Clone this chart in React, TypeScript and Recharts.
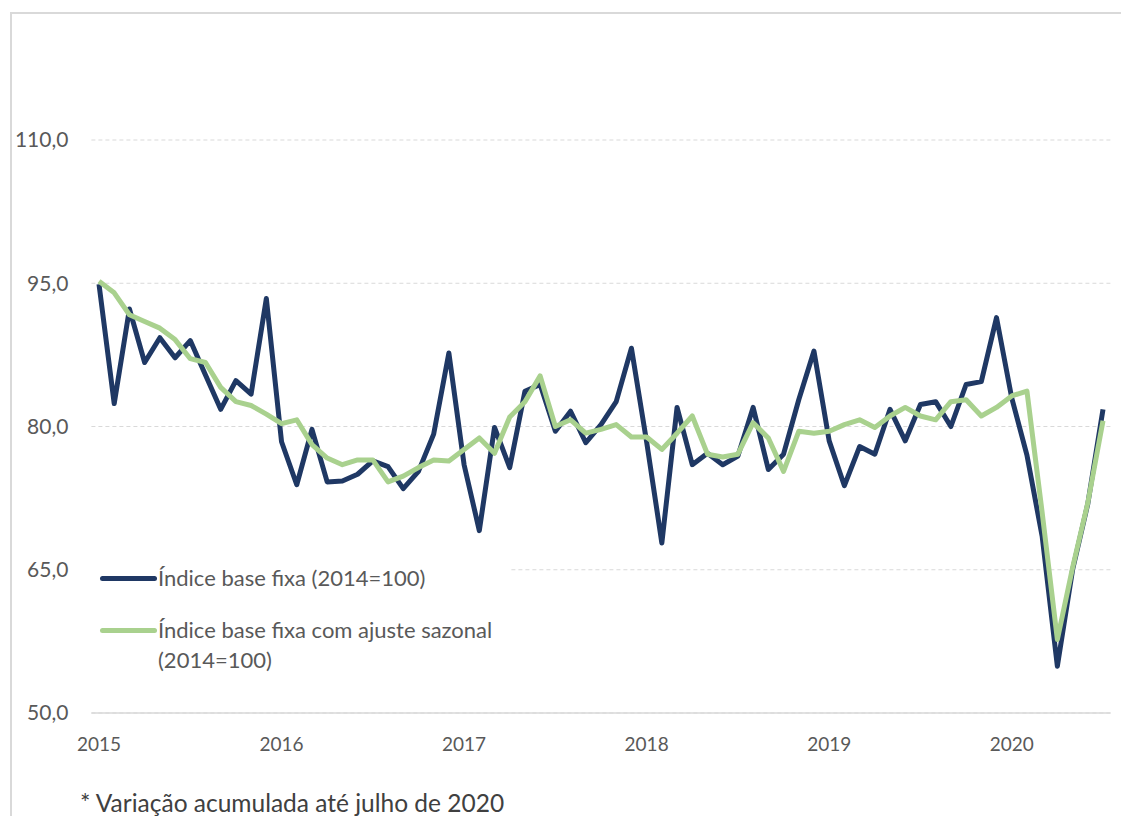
import React from 'react';
import { LineChart, Line, XAxis, YAxis, CartesianGrid, Legend } from 'recharts';

const years = ['2015', '2016', '2017', '2018', '2019', '2020'];
const monthsPerYear = ['01', '02', '03', '04', '05', '06', '07', '08', '09', '10', '11', '12'];
const lastMonth2020 = 7;

const indiceBaseFixa = [
  94.9, 82.4, 92.3, 86.7, 89.3, 87.2, 89.0, 85.4, 81.8, 84.8, 83.4, 93.4,
  78.4, 73.9, 79.7, 74.2, 74.3, 75.0, 76.4, 75.8, 73.5, 75.3, 79.2, 87.7,
  76.0, 69.1, 79.9, 75.7, 83.7, 84.4, 79.5, 81.6, 78.3, 80.2, 82.6, 88.2,
  78.4, 67.8, 82.0, 76.0, 77.2, 76.0, 76.9, 82.0, 75.5, 77.1, 82.8, 87.9,
  78.5, 73.8, 77.9, 77.1, 81.8, 78.5, 82.3, 82.6, 80.0, 84.4, 84.7, 91.4,
  83.0, 77.0, 68.5, 54.9, 65.0, 71.9, 81.8,
];

const indiceAjusteSazonal = [
  95.2, 94.0, 91.7, 91.0, 90.3, 89.1, 87.1, 86.7, 84.1, 82.6, 82.2, 81.3,
  80.3, 80.7, 78.1, 76.7, 76.0, 76.5, 76.5, 74.2, 74.8, 75.7, 76.5, 76.4,
  77.6, 78.8, 77.2, 81.0, 82.6, 85.3, 80.0, 80.7, 79.3, 79.7, 80.2, 78.9,
  78.9, 77.6, 79.3, 81.1, 77.1, 76.8, 77.1, 80.4, 78.8, 75.3, 79.5, 79.3,
  79.5, 80.2, 80.7, 79.9, 81.1, 82.0, 81.1, 80.7, 82.6, 82.8, 81.1, 82.0,
  83.2, 83.7, 71.0, 57.7, 65.2, 72.0, 80.6,
];

const yTicks = [50, 65, 80, 95, 110];

const seriesNames = ['Índice base fixa (2014=100)', 'Índice base fixa com ajuste sazonal (2014=100)'];
const footnote = '* Variação acumulada até julho de 2020';

const months: string[] = [];
years.forEach((y) => {
  const n = y === '2020' ? lastMonth2020 : 12;
  for (let m = 0; m < n; m++) months.push(`${y}-${monthsPerYear[m]}`);
});

const data = months.map((month, i) => ({
  month,
  fixa: indiceBaseFixa[i],
  sazonal: indiceAjusteSazonal[i],
}));

const DARK = '#1f3864';
const GREEN = '#a9d18e';
const TEXT = '#595959';
const FONT = 'Lato, "Open Sans", sans-serif';

const LegendContent = (props: any) => {
  const payload = props.payload || [];
  return (
    <div style={{ background: '#ffffff', padding: '10px 0 10px 0', fontFamily: FONT }}>
      {payload.map((p: any, i: number) => (
        <div key={i} style={{ display: 'flex', alignItems: 'flex-start', marginBottom: i === 0 ? 22 : 0 }}>
          <div style={{ width: 10 }} />
          <div style={{ width: 58, height: 30, display: 'flex', alignItems: 'center' }}>
            <div style={{ width: 57, height: 5, borderRadius: 3, background: p.color }} />
          </div>
          <div style={{ width: 350, fontSize: 22, lineHeight: '30px', color: TEXT }}>{p.value}</div>
        </div>
      ))}
    </div>
  );
};

export default function App() {
  return (
    <div style={{ position: 'relative', width: 1121, height: 808, overflow: 'hidden', fontFamily: FONT, background: '#fff' }}>
      <div style={{ position: 'absolute', left: 2, top: 4, width: 1200, height: 1000, border: '2px solid #d9d9d9', boxSizing: 'border-box' }} />
      <div style={{ position: 'absolute', left: 0, top: 0 }}>
        <LineChart width={1121} height={808} data={data} margin={{ top: 36.5, right: 18.4, bottom: 73, left: 0 }}>
          <CartesianGrid horizontal vertical={false} horizontalValues={yTicks} stroke="#d9d9d9" strokeDasharray="4 3" />
          <XAxis
            dataKey="month"
            interval={11}
            padding={{ left: 7.6, right: 7.6 }}
            height={30}
            tickLine={false}
            axisLine={{ stroke: '#d9d9d9', strokeWidth: 1.5 }}
            tickSize={6}
            tickMargin={19}
            tick={{ fill: TEXT, fontSize: 19, fontFamily: FONT }}
            tickFormatter={(v: string) => v.slice(0, 4)}
          />
          <YAxis
            width={83.4}
            domain={[50, 120]}
            ticks={yTicks}
            allowDataOverflow
            axisLine={false}
            tickLine={false}
            tickSize={6}
            tickMargin={17}
            tick={{ fill: TEXT, fontSize: 21, fontFamily: FONT }}
            tickFormatter={(v: number) => v.toFixed(1).replace('.', ',')}
          />
          <Legend
            layout="vertical"
            align="center"
            verticalAlign="middle"
            content={<LegendContent />}
            wrapperStyle={{ left: 82, top: 545, width: 420 }}
          />
          <Line
            type="linear"
            dataKey="fixa"
            name={seriesNames[0]}
            stroke={DARK}
            strokeWidth={5}
            strokeLinejoin="round"
            dot={false}
            activeDot={false}
            isAnimationActive={false}
          />
          <Line
            type="linear"
            dataKey="sazonal"
            name={seriesNames[1]}
            stroke={GREEN}
            strokeWidth={5}
            strokeLinejoin="round"
            dot={false}
            activeDot={false}
            isAnimationActive={false}
          />
        </LineChart>
      </div>
      <div style={{ position: 'absolute', left: 72, top: 781, fontSize: 24.5, lineHeight: '28px', color: '#404040', whiteSpace: 'nowrap' }}>
        {footnote}
      </div>
    </div>
  );
}
